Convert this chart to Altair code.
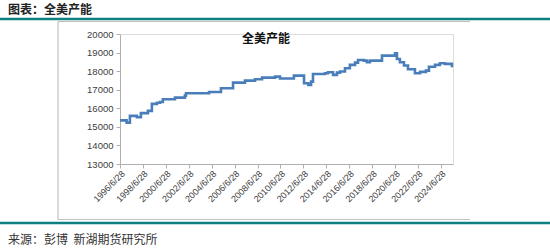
import altair as alt
import pandas as pd

dates = ["1996/06/28", "1997/01/25", "1997/05/10", "1997/12/20", "1998/04/25",
         "1998/12/05", "1999/04/10", "1999/09/20", "1999/12/25", "2000/03/25",
         "2001/04/15", "2002/02/25", "2002/04/01", "2004/04/05", "2005/04/20",
         "2006/05/10", "2007/05/25", "2008/04/10", "2008/11/20", "2010/01/10",
         "2010/06/15", "2011/09/01", "2012/07/20", "2012/12/01", "2013/03/01",
         "2013/05/01", "2014/05/20", "2014/08/20", "2015/02/01", "2015/06/05",
         "2015/09/10", "2016/02/15", "2016/07/20", "2017/01/01", "2017/04/05",
         "2017/10/10", "2018/01/15", "2018/04/20", "2019/05/10", "2020/06/28",
         "2020/08/28", "2020/12/01", "2021/04/10", "2021/08/15", "2022/03/25",
         "2022/09/01", "2023/03/10", "2023/06/15", "2023/12/25", "2024/05/28",
         "2024/11/05", "2025/06/15"]
capacity = [15350, 15230, 15590, 15520, 15740,
            15860, 16235, 16300, 16340, 16490,
            16575, 16680, 16810, 16880, 17080,
            17380, 17490, 17565, 17650, 17705,
            17600, 17760, 17350, 17260, 17435,
            17850, 17890, 17940, 17800, 17920,
            17980, 18155, 18335, 18460, 18600,
            18565, 18480, 18565, 18835, 18960,
            18655, 18480, 18300, 18100, 17890,
            17960, 18030, 18240, 18335, 18425,
            18390, 18210]

tick_years = list(range(1996, 2025, 2))
y_ticks = [13000, 14000, 15000, 16000, 17000, 18000, 19000, 20000]

header = "图表：全美产能"
chart_title = "全美产能"
source = "来源：彭博\u00a0\u00a0新湖期货研究所"

df = pd.DataFrame({"date": dates, "value": capacity})

W, H = 333, 130
PL, PT = 120, 34
CJK = "Noto Sans CJK SC"

line = alt.Chart(df).mark_line(
    interpolate="step-after", color="#4a7ebb", strokeWidth=2.6, clip=False
).encode(
    x=alt.X("date:T",
            scale=alt.Scale(domain=[alt.DateTime(year=1996, month=6, date=28),
                                    alt.DateTime(year=2025, month=7, date=20)]),
            axis=alt.Axis(title=None,
                          values=[alt.DateTime(year=y, month=6, date=28) for y in tick_years],
                          format="%Y/%-m/%d", labelAngle=-45, labelAlign="right",
                          labelBaseline="top", labelFontSize=9, labelFont="Liberation Sans",
                          labelColor="#404040", domainColor="#b0b0b0", tickColor="#b0b0b0",
                          tickSize=4, grid=False, labelPadding=1, labelOverlap=False)),
    y=alt.Y("value:Q",
            scale=alt.Scale(domain=[13000, 20000], nice=False, zero=False),
            axis=alt.Axis(title=None, values=y_ticks, format="d", labelFontSize=9.5,
                          labelFont="Liberation Sans", labelColor="#404040",
                          domainColor="#b0b0b0", tickColor="#b0b0b0", tickSize=4,
                          grid=False, labelPadding=3)),
)

one = alt.Data(values=[{"a": 1}])


def rule(x1, x2, y1, y2, color, width):
    return alt.Chart(one).mark_rule(color=color, strokeWidth=width, clip=False).encode(
        x=alt.value(x1 - PL), x2=alt.value(x2 - PL),
        y=alt.value(y1 - PT), y2=alt.value(y2 - PT))


def text(s, x, y, size, weight="normal", color="#222222", align="left"):
    return alt.Chart(one).mark_text(
        text=s, font=CJK, fontSize=size, fontWeight=weight, color=color,
        align=align, baseline="middle", clip=False
    ).encode(x=alt.value(x - PL), y=alt.value(y - PT))


layers = [
    rule(0, 550, 19, 19, "#0f8080", 2.5),
    rule(58, 470, 21.5, 21.5, "#c0c0c0", 1.2),
    rule(58, 58, 21.5, 219.5, "#c0c0c0", 1.2),
    rule(58, 470, 219.5, 219.5, "#c0c0c0", 1.2),
    rule(0, 550, 223, 223, "#0f8080", 2.5),
    text(header, 8, 10, 12, "bold"),
    text(chart_title, 266, 39, 12, "bold", "#111111", "center"),
    text(source, 8, 240, 12, "normal", "#333333"),
    line,
]

chart = alt.layer(*layers).properties(
    width=W, height=H,
    autosize=alt.AutoSizeParams(type="none"),
    padding={"left": PL, "top": PT, "right": 550 - PL - W, "bottom": 251 - PT - H},
).configure_view(stroke=None).configure(background="white")

chart.save("out.html", embed_options={"renderer": "svg", "actions": False})
